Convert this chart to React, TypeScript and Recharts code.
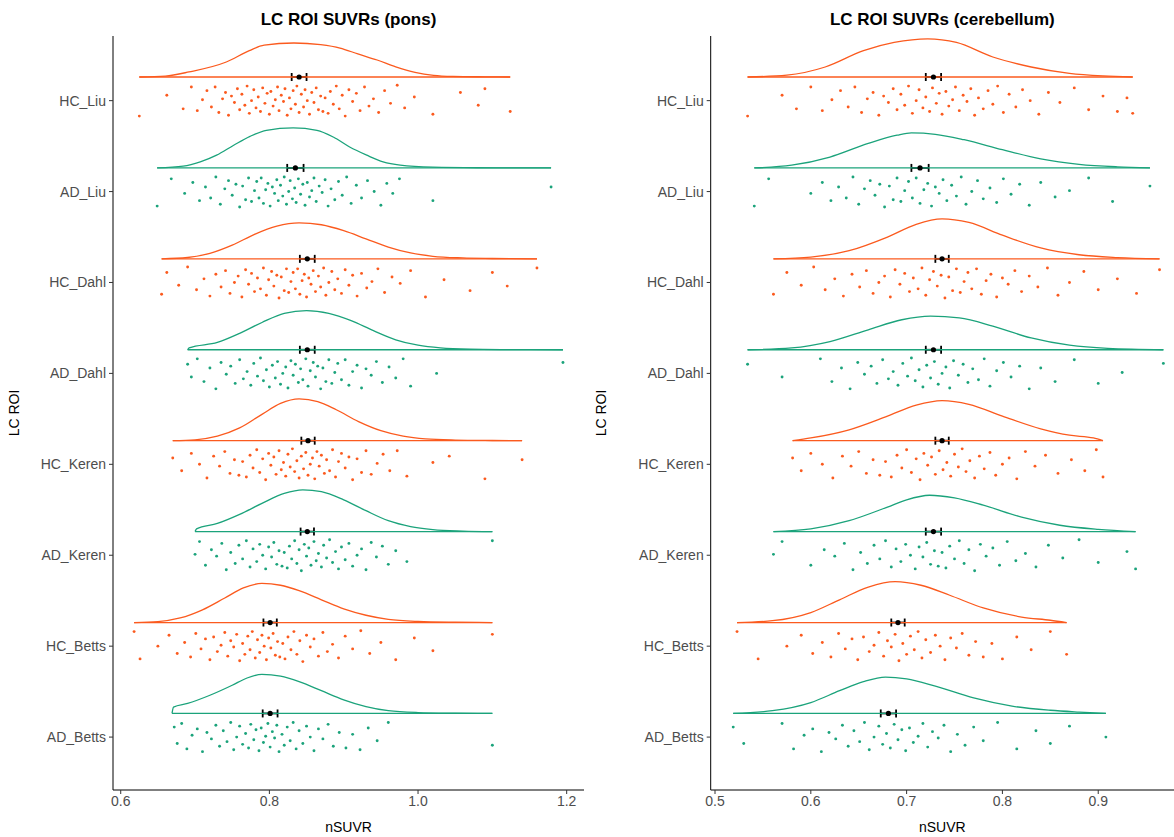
/* ── LC ROI SUVR raincloud plots (pons / cerebellum) ── */

import React from 'react';
import { ScatterChart, Scatter, XAxis, YAxis, ErrorBar } from 'recharts';

const GROUPS = ['AD_Betts', 'HC_Betts', 'AD_Keren', 'HC_Keren', 'AD_Dahl', 'HC_Dahl', 'AD_Liu', 'HC_Liu'];

const ORANGE = '#FB5A1E';
const GREEN = '#1BA37B';
const FONT = '"Liberation Sans", Arial, Helvetica, sans-serif';

// vertical jitter of the raw points (category units)
const JITTER = [
  0.11, -0.07, 0.15, -0.13, 0.02, 0.09, -0.16, 0.05, -0.02, 0.13,
  -0.1, 0.07, -0.05, 0.16, -0.14, 0.0, 0.12, -0.08, 0.04, -0.12,
  0.14, -0.03, 0.08, -0.15, 0.1, -0.06, 0.01, 0.15, -0.11, 0.06,
  -0.01, 0.13, -0.16, 0.03, -0.09, 0.11, -0.04, 0.16, -0.13, 0.07,
  -0.07, 0.12, 0.0, -0.15, 0.09, -0.02, 0.14, -0.1, 0.05, -0.12,
  0.03, -0.14, 0.1, -0.04, 0.16, -0.09, 0.06, -0.17, 0.12, -0.01,
  0.08, -0.11, 0.15, -0.06, 0.02, -0.13, 0.11, -0.03, 0.17, -0.08,
  0.04, -0.15, 0.09, -0.05, 0.13, -0.12, 0.0, 0.07, -0.16, 0.14,
  -0.02, 0.1, -0.1, 0.05, -0.07, 0.16, -0.14, 0.03, 0.12, -0.04,
  0.08, -0.17, 0.06, -0.09, 0.15, -0.11, 0.01,
];

/* ---- pons: density outlines [nSUVR, height] ---- */
const pHcLiuDens = [[0.625, 0], [0.66, 0.01], [0.692, 0.056], [0.742, 0.165], [0.773, 0.29], [0.793, 0.35], [0.833, 0.374], [0.869, 0.355], [0.895, 0.318], [0.919, 0.254], [0.945, 0.187], [0.97, 0.112], [0.996, 0.052], [1.021, 0.019], [1.047, 0.007], [1.09, 0.002], [1.124, 0]];
const pAdLiuDens = [[0.649, 0], [0.684, 0.019], [0.707, 0.066], [0.729, 0.14], [0.752, 0.25], [0.774, 0.348], [0.796, 0.414], [0.832, 0.44], [0.864, 0.414], [0.886, 0.34], [0.908, 0.23], [0.931, 0.14], [0.953, 0.066], [0.976, 0.03], [1.02, 0.008], [1.08, 0.002], [1.179, 0]];
const pHcDahlDens = [[0.655, 0], [0.69, 0.015], [0.72, 0.06], [0.75, 0.15], [0.78, 0.27], [0.81, 0.36], [0.84, 0.396], [0.87, 0.375], [0.9, 0.31], [0.93, 0.22], [0.96, 0.13], [0.99, 0.065], [1.02, 0.028], [1.06, 0.01], [1.1, 0.004], [1.16, 0]];
const pAdDahlDens = [[0.69, 0], [0.692, 0.02], [0.73, 0.08], [0.76, 0.18], [0.79, 0.3], [0.82, 0.4], [0.85, 0.43], [0.88, 0.4], [0.91, 0.32], [0.94, 0.21], [0.97, 0.11], [1.0, 0.05], [1.03, 0.02], [1.07, 0.006], [1.12, 0.002], [1.195, 0]];
const pHcKerenDens = [[0.67, 0], [0.7, 0.01], [0.73, 0.05], [0.76, 0.14], [0.79, 0.29], [0.815, 0.41], [0.84, 0.46], [0.865, 0.43], [0.89, 0.34], [0.92, 0.21], [0.95, 0.11], [0.98, 0.05], [1.01, 0.02], [1.05, 0.007], [1.1, 0.002], [1.14, 0]];
const pAdKerenDens = [[0.7, 0], [0.702, 0.03], [0.73, 0.09], [0.76, 0.19], [0.79, 0.31], [0.82, 0.42], [0.845, 0.46], [0.87, 0.44], [0.9, 0.35], [0.93, 0.23], [0.96, 0.12], [0.99, 0.055], [1.02, 0.022], [1.06, 0.006], [1.1, 0]];
const pHcBettsDens = [[0.618, 0], [0.65, 0.01], [0.68, 0.05], [0.71, 0.14], [0.74, 0.27], [0.765, 0.38], [0.79, 0.43], [0.815, 0.41], [0.84, 0.35], [0.87, 0.25], [0.9, 0.15], [0.93, 0.08], [0.96, 0.035], [1.0, 0.012], [1.05, 0.003], [1.1, 0]];
const pAdBettsDens = [[0.669, 0], [0.671, 0.07], [0.69, 0.11], [0.72, 0.2], [0.75, 0.31], [0.77, 0.39], [0.79, 0.43], [0.815, 0.41], [0.84, 0.35], [0.87, 0.25], [0.9, 0.15], [0.93, 0.075], [0.96, 0.03], [1.0, 0.01], [1.05, 0.003], [1.1, 0]];

/* ---- pons: raw points ---- */
const pHcLiuPts = [0.625, 0.662, 0.684, 0.695, 0.703, 0.71, 0.716, 0.722, 0.727, 0.732, 0.737, 0.741, 0.745, 0.749, 0.753, 0.757, 0.76, 0.763, 0.767, 0.77, 0.773, 0.776, 0.779, 0.782, 0.785, 0.788, 0.791, 0.794, 0.797, 0.8, 0.802, 0.805, 0.808, 0.811, 0.813, 0.816, 0.819, 0.821, 0.824, 0.827, 0.829, 0.832, 0.835, 0.837, 0.84, 0.843, 0.846, 0.848, 0.851, 0.854, 0.857, 0.86, 0.863, 0.866, 0.869, 0.872, 0.875, 0.879, 0.882, 0.886, 0.89, 0.894, 0.898, 0.902, 0.907, 0.912, 0.917, 0.922, 0.928, 0.934, 0.94, 0.947, 0.955, 0.963, 0.972, 0.982, 0.995, 1.02, 1.057, 1.081, 1.09, 1.124];
const pAdLiuPts = [0.649, 0.668, 0.686, 0.697, 0.706, 0.714, 0.721, 0.728, 0.734, 0.74, 0.745, 0.75, 0.755, 0.76, 0.764, 0.768, 0.772, 0.776, 0.78, 0.783, 0.786, 0.789, 0.792, 0.795, 0.798, 0.801, 0.804, 0.807, 0.81, 0.812, 0.815, 0.818, 0.82, 0.823, 0.826, 0.828, 0.831, 0.834, 0.836, 0.839, 0.842, 0.845, 0.848, 0.851, 0.854, 0.857, 0.86, 0.863, 0.867, 0.871, 0.875, 0.879, 0.883, 0.888, 0.893, 0.898, 0.904, 0.91, 0.917, 0.924, 0.932, 0.941, 0.95, 0.958, 0.966, 0.975, 1.02, 1.179];
const pHcDahlPts = [0.655, 0.662, 0.678, 0.69, 0.702, 0.712, 0.72, 0.728, 0.735, 0.741, 0.747, 0.753, 0.758, 0.763, 0.768, 0.772, 0.776, 0.78, 0.784, 0.788, 0.792, 0.796, 0.799, 0.803, 0.806, 0.81, 0.813, 0.816, 0.82, 0.823, 0.826, 0.829, 0.832, 0.835, 0.838, 0.841, 0.844, 0.847, 0.85, 0.853, 0.856, 0.859, 0.862, 0.866, 0.869, 0.873, 0.876, 0.88, 0.884, 0.888, 0.892, 0.897, 0.902, 0.907, 0.912, 0.918, 0.924, 0.931, 0.938, 0.946, 0.955, 0.965, 0.976, 0.99, 1.01, 1.035, 1.07, 1.1, 1.12, 1.16];
const pAdDahlPts = [0.69, 0.695, 0.703, 0.712, 0.72, 0.728, 0.735, 0.742, 0.748, 0.754, 0.76, 0.765, 0.77, 0.775, 0.779, 0.784, 0.788, 0.792, 0.796, 0.8, 0.804, 0.808, 0.811, 0.815, 0.818, 0.822, 0.825, 0.829, 0.832, 0.835, 0.839, 0.842, 0.845, 0.849, 0.852, 0.855, 0.859, 0.862, 0.865, 0.869, 0.872, 0.876, 0.88, 0.884, 0.888, 0.892, 0.897, 0.902, 0.907, 0.912, 0.918, 0.924, 0.93, 0.937, 0.944, 0.952, 0.961, 0.97, 0.98, 0.99, 1.025, 1.195];
const pHcKerenPts = [0.67, 0.682, 0.695, 0.706, 0.716, 0.725, 0.733, 0.74, 0.747, 0.753, 0.759, 0.764, 0.769, 0.774, 0.778, 0.783, 0.787, 0.791, 0.795, 0.799, 0.802, 0.806, 0.809, 0.813, 0.816, 0.819, 0.822, 0.825, 0.828, 0.831, 0.834, 0.837, 0.84, 0.843, 0.846, 0.849, 0.852, 0.855, 0.858, 0.861, 0.864, 0.867, 0.87, 0.874, 0.877, 0.881, 0.885, 0.889, 0.893, 0.897, 0.902, 0.907, 0.912, 0.918, 0.924, 0.93, 0.937, 0.945, 0.953, 0.962, 0.972, 0.985, 1.02, 1.042, 1.09, 1.14];
const pAdKerenPts = [0.7, 0.706, 0.714, 0.722, 0.729, 0.736, 0.742, 0.748, 0.754, 0.759, 0.764, 0.769, 0.774, 0.778, 0.783, 0.787, 0.791, 0.795, 0.799, 0.803, 0.806, 0.81, 0.813, 0.817, 0.82, 0.824, 0.827, 0.83, 0.834, 0.837, 0.84, 0.843, 0.847, 0.85, 0.853, 0.856, 0.86, 0.863, 0.866, 0.87, 0.873, 0.877, 0.881, 0.885, 0.889, 0.893, 0.897, 0.902, 0.907, 0.912, 0.918, 0.924, 0.93, 0.937, 0.944, 0.952, 0.96, 0.97, 0.985, 1.1];
const pHcBettsPts = [0.618, 0.626, 0.65, 0.665, 0.676, 0.686, 0.694, 0.701, 0.708, 0.714, 0.72, 0.725, 0.73, 0.735, 0.74, 0.744, 0.748, 0.752, 0.756, 0.76, 0.764, 0.767, 0.771, 0.774, 0.777, 0.781, 0.784, 0.787, 0.79, 0.793, 0.796, 0.799, 0.802, 0.805, 0.808, 0.811, 0.814, 0.818, 0.821, 0.825, 0.829, 0.833, 0.837, 0.841, 0.845, 0.85, 0.855, 0.86, 0.866, 0.872, 0.878, 0.885, 0.893, 0.902, 0.912, 0.923, 0.935, 0.95, 0.97, 0.995, 1.02, 1.1];
const pAdBettsPts = [0.672, 0.676, 0.682, 0.689, 0.696, 0.703, 0.71, 0.716, 0.722, 0.728, 0.733, 0.738, 0.743, 0.748, 0.752, 0.756, 0.76, 0.764, 0.768, 0.772, 0.775, 0.779, 0.782, 0.786, 0.789, 0.792, 0.795, 0.798, 0.801, 0.804, 0.807, 0.81, 0.813, 0.817, 0.82, 0.824, 0.828, 0.832, 0.836, 0.84, 0.845, 0.85, 0.855, 0.86, 0.866, 0.872, 0.879, 0.886, 0.894, 0.903, 0.912, 0.922, 0.933, 0.945, 0.96, 1.1];

// group order as in GROUPS
const ponsMean = [0.801, 0.801, 0.851, 0.852, 0.851, 0.851, 0.835, 0.84];
const ponsSE = [0.01, 0.009, 0.009, 0.009, 0.01, 0.01, 0.011, 0.01];

/* ---- cerebellum: density outlines ---- */
const cHcLiuDens = [[0.534, 0], [0.575, 0.02], [0.615, 0.11], [0.655, 0.29], [0.687, 0.38], [0.722, 0.42], [0.752, 0.38], [0.79, 0.22], [0.83, 0.11], [0.87, 0.04], [0.905, 0.012], [0.936, 0]];
const cAdLiuDens = [[0.541, 0], [0.58, 0.03], [0.62, 0.12], [0.66, 0.27], [0.69, 0.36], [0.705, 0.385], [0.73, 0.37], [0.76, 0.31], [0.8, 0.2], [0.84, 0.1], [0.88, 0.04], [0.92, 0.012], [0.954, 0]];
const cHcDahlDens = [[0.561, 0], [0.6, 0.02], [0.64, 0.09], [0.68, 0.24], [0.71, 0.38], [0.737, 0.44], [0.765, 0.4], [0.8, 0.26], [0.84, 0.12], [0.88, 0.045], [0.92, 0.014], [0.964, 0]];
const cAdDahlDens = [[0.534, 0], [0.58, 0.02], [0.62, 0.09], [0.66, 0.22], [0.695, 0.33], [0.725, 0.37], [0.755, 0.35], [0.79, 0.26], [0.83, 0.13], [0.87, 0.05], [0.91, 0.015], [0.968, 0]];
const cHcKerenDens = [[0.581, 0], [0.6, 0.03], [0.64, 0.12], [0.68, 0.27], [0.71, 0.39], [0.737, 0.44], [0.765, 0.4], [0.8, 0.27], [0.84, 0.13], [0.87, 0.06], [0.895, 0.03], [0.905, 0]];
const cAdKerenDens = [[0.561, 0], [0.6, 0.03], [0.64, 0.12], [0.68, 0.27], [0.7, 0.35], [0.724, 0.4], [0.75, 0.37], [0.78, 0.29], [0.82, 0.16], [0.86, 0.07], [0.9, 0.025], [0.939, 0]];
const cHcBettsDens = [[0.523, 0], [0.56, 0.02], [0.6, 0.11], [0.63, 0.25], [0.66, 0.39], [0.688, 0.45], [0.715, 0.41], [0.745, 0.3], [0.78, 0.16], [0.82, 0.06], [0.85, 0.025], [0.867, 0]];
const cAdBettsDens = [[0.519, 0], [0.56, 0.03], [0.6, 0.12], [0.63, 0.25], [0.655, 0.35], [0.678, 0.4], [0.7, 0.38], [0.73, 0.3], [0.77, 0.17], [0.81, 0.08], [0.85, 0.035], [0.88, 0.015], [0.908, 0]];

/* ---- cerebellum: raw points ---- */
const cHcLiuPts = [0.534, 0.57, 0.585, 0.6, 0.612, 0.622, 0.631, 0.639, 0.646, 0.653, 0.659, 0.665, 0.671, 0.676, 0.681, 0.686, 0.69, 0.694, 0.698, 0.702, 0.706, 0.71, 0.713, 0.717, 0.72, 0.724, 0.727, 0.731, 0.734, 0.737, 0.741, 0.744, 0.748, 0.751, 0.755, 0.759, 0.763, 0.767, 0.771, 0.775, 0.78, 0.785, 0.79, 0.795, 0.801, 0.807, 0.814, 0.821, 0.829, 0.838, 0.848, 0.86, 0.875, 0.89, 0.905, 0.92, 0.93, 0.936];
const cAdLiuPts = [0.541, 0.556, 0.6, 0.612, 0.621, 0.629, 0.637, 0.644, 0.65, 0.656, 0.662, 0.667, 0.672, 0.677, 0.682, 0.686, 0.69, 0.694, 0.698, 0.702, 0.706, 0.71, 0.714, 0.718, 0.722, 0.726, 0.73, 0.734, 0.738, 0.742, 0.747, 0.752, 0.757, 0.762, 0.768, 0.774, 0.78, 0.787, 0.794, 0.801, 0.809, 0.818, 0.828, 0.84, 0.855, 0.87, 0.89, 0.915, 0.954];
const cHcDahlPts = [0.561, 0.575, 0.59, 0.603, 0.615, 0.625, 0.634, 0.643, 0.651, 0.658, 0.665, 0.671, 0.677, 0.683, 0.688, 0.693, 0.698, 0.703, 0.707, 0.712, 0.716, 0.72, 0.724, 0.728, 0.732, 0.736, 0.74, 0.744, 0.748, 0.752, 0.756, 0.76, 0.764, 0.768, 0.773, 0.778, 0.783, 0.788, 0.794, 0.8, 0.806, 0.813, 0.82, 0.828, 0.837, 0.847, 0.858, 0.87, 0.885, 0.9, 0.92, 0.94, 0.964];
const cAdDahlPts = [0.534, 0.57, 0.61, 0.622, 0.632, 0.641, 0.649, 0.656, 0.663, 0.669, 0.675, 0.681, 0.686, 0.691, 0.696, 0.701, 0.705, 0.709, 0.713, 0.717, 0.721, 0.725, 0.729, 0.733, 0.737, 0.741, 0.745, 0.749, 0.754, 0.759, 0.764, 0.769, 0.775, 0.781, 0.787, 0.794, 0.801, 0.809, 0.818, 0.828, 0.84, 0.855, 0.875, 0.9, 0.925, 0.968];
const cHcKerenPts = [0.581, 0.59, 0.6, 0.612, 0.623, 0.633, 0.642, 0.65, 0.658, 0.665, 0.672, 0.678, 0.684, 0.69, 0.695, 0.7, 0.705, 0.71, 0.714, 0.718, 0.722, 0.726, 0.73, 0.734, 0.738, 0.742, 0.746, 0.75, 0.754, 0.758, 0.762, 0.766, 0.771, 0.776, 0.781, 0.787, 0.793, 0.8, 0.807, 0.815, 0.824, 0.834, 0.845, 0.858, 0.872, 0.886, 0.898, 0.905];
const cAdKerenPts = [0.561, 0.57, 0.6, 0.614, 0.625, 0.635, 0.644, 0.652, 0.659, 0.666, 0.672, 0.678, 0.684, 0.689, 0.694, 0.699, 0.704, 0.709, 0.713, 0.717, 0.721, 0.725, 0.729, 0.733, 0.737, 0.741, 0.745, 0.75, 0.755, 0.76, 0.765, 0.771, 0.777, 0.783, 0.79, 0.797, 0.805, 0.814, 0.824, 0.835, 0.848, 0.863, 0.88, 0.9, 0.93, 0.939];
const cHcBettsPts = [0.523, 0.545, 0.575, 0.59, 0.602, 0.612, 0.621, 0.629, 0.636, 0.643, 0.649, 0.655, 0.661, 0.666, 0.671, 0.676, 0.68, 0.684, 0.688, 0.692, 0.696, 0.7, 0.704, 0.708, 0.712, 0.716, 0.72, 0.725, 0.73, 0.735, 0.74, 0.746, 0.752, 0.758, 0.765, 0.772, 0.78, 0.789, 0.8, 0.815, 0.83, 0.85, 0.867];
const cAdBettsPts = [0.519, 0.53, 0.57, 0.582, 0.593, 0.602, 0.611, 0.619, 0.626, 0.633, 0.639, 0.645, 0.651, 0.656, 0.661, 0.666, 0.671, 0.675, 0.679, 0.683, 0.687, 0.691, 0.695, 0.699, 0.703, 0.707, 0.712, 0.717, 0.722, 0.727, 0.733, 0.739, 0.746, 0.753, 0.761, 0.77, 0.78, 0.795, 0.815, 0.835, 0.85, 0.87, 0.908];

const cereMean = [0.681, 0.691, 0.728, 0.737, 0.728, 0.737, 0.714, 0.728];
const cereSE = [0.008, 0.007, 0.008, 0.007, 0.008, 0.007, 0.009, 0.008];

const ponsDens = [pAdBettsDens, pHcBettsDens, pAdKerenDens, pHcKerenDens, pAdDahlDens, pHcDahlDens, pAdLiuDens, pHcLiuDens];
const ponsPts = [pAdBettsPts, pHcBettsPts, pAdKerenPts, pHcKerenPts, pAdDahlPts, pHcDahlPts, pAdLiuPts, pHcLiuPts];
const cereDens = [cAdBettsDens, cHcBettsDens, cAdKerenDens, cHcKerenDens, cAdDahlDens, cHcDahlDens, cAdLiuDens, cHcLiuDens];
const cerePts = [cAdBettsPts, cHcBettsPts, cAdKerenPts, cHcKerenPts, cAdDahlPts, cHcDahlPts, cAdLiuPts, cHcLiuPts];

const BASE = 0.26; // violin baseline above category centre
const Y_DOMAIN: [number, number] = [-0.582, 7.711];
const CHART_H = 837;
const TOP = 36;
const X_AXIS_H = 47;

const hidden = () => <g />;

interface PanelProps {
  title: string;
  left: number;
  width: number;
  yWidth: number;
  marginRight: number;
  domain: [number, number];
  ticks: number[];
  dens: number[][][];
  pts: number[][];
  mean: number[];
  se: number[];
}

function Panel({ title, left, width, yWidth, marginRight, domain, ticks, dens, pts, mean, se }: PanelProps) {
  const plotLeft = left + yWidth;
  const plotW = width - yWidth - marginRight;
  const plotBottom = CHART_H - X_AXIS_H;
  return (
    <>
      <div style={{ position: 'absolute', left: plotLeft, top: 9, width: plotW, textAlign: 'center', fontFamily: FONT, fontWeight: 'bold', fontSize: 17, lineHeight: '22px', color: '#000' }}>
        {title}
      </div>
      <div style={{ position: 'absolute', left: plotLeft, top: 818, width: plotW, textAlign: 'center', fontFamily: FONT, fontSize: 14, lineHeight: '18px', color: '#000' }}>
        nSUVR
      </div>
      <div style={{ position: 'absolute', left: left + 14 - 60, top: (TOP + plotBottom) / 2 - 9, width: 120, textAlign: 'center', fontFamily: FONT, fontSize: 14, lineHeight: '18px', color: '#000', transform: 'rotate(-90deg)' }}>
        LC ROI
      </div>
      <div style={{ position: 'absolute', left, top: 0 }}>
        <ScatterChart width={width} height={CHART_H} margin={{ top: TOP, right: marginRight, bottom: 0, left: 0 }}>
          <XAxis
            type="number"
            dataKey="x"
            domain={domain}
            allowDataOverflow
            ticks={ticks}
            tickFormatter={(v: number) => v.toFixed(1)}
            height={X_AXIS_H}
            stroke="#000"
            tickSize={4}
            tickMargin={2}
            tick={{ fill: '#4d4d4d', fontSize: 14, fontFamily: FONT }}
            tickLine={{ stroke: '#333' }}
          />
          <YAxis
            type="number"
            dataKey="y"
            domain={Y_DOMAIN}
            allowDataOverflow
            ticks={[0, 1, 2, 3, 4, 5, 6, 7]}
            interval={0}
            tickFormatter={(v: number) => GROUPS[v]}
            width={yWidth}
            stroke="#000"
            tickSize={4}
            tickMargin={3}
            tick={{ fill: '#4d4d4d', fontSize: 14, fontFamily: FONT }}
            tickLine={{ stroke: '#333' }}
          />
          {GROUPS.map((g, k) => {
            const col = g.startsWith('HC') ? ORANGE : GREEN;
            const d = dens[k];
            const curve = d.map(([x, h]) => ({ x, y: k + BASE + h }));
            const base = [{ x: d[0][0], y: k + BASE }, { x: d[d.length - 1][0], y: k + BASE }];
            return (
              <React.Fragment key={g}>
                <Scatter data={base} line={{ stroke: col, strokeWidth: 1.3 }} shape={hidden} isAnimationActive={false} />
                <Scatter data={curve} line={{ stroke: col, strokeWidth: 1.3 }} lineJointType="monotoneX" shape={hidden} isAnimationActive={false} />
              </React.Fragment>
            );
          })}
          {GROUPS.map((g, k) => {
            const col = g.startsWith('HC') ? ORANGE : GREEN;
            const data = pts[k].map((x, i) => ({ x, y: k + JITTER[(i + k * 13) % JITTER.length] }));
            return (
              <Scatter
                key={g + '-pts'}
                data={data}
                isAnimationActive={false}
                shape={(p: any) => <circle cx={p.cx} cy={p.cy} r={1.45} fill={col} />}
              />
            );
          })}
          {GROUPS.map((g, k) => (
            <Scatter
              key={g + '-mean'}
              data={[{ x: mean[k], y: k + BASE, err: se[k] }]}
              isAnimationActive={false}
              shape={(p: any) => <circle cx={p.cx} cy={p.cy} r={2.6} fill="#000" />}
            >
              <ErrorBar dataKey="err" direction="x" width={4} stroke="#000" strokeWidth={1.8} />
            </Scatter>
          ))}
        </ScatterChart>
      </div>
    </>
  );
}

export default function App() {
  return (
    <div style={{ position: 'absolute', left: 0, top: 0, width: 1174, height: 837, background: '#fff', overflow: 'hidden' }}>
      <Panel
        title="LC ROI SUVRs (pons)"
        left={0}
        width={587}
        yWidth={113}
        marginRight={3}
        domain={[0.5896, 1.2233]}
        ticks={[0.6, 0.8, 1.0, 1.2]}
        dens={ponsDens}
        pts={ponsPts}
        mean={ponsMean}
        se={ponsSE}
      />
      <Panel
        title="LC ROI SUVRs (cerebellum)"
        left={587}
        width={587}
        yWidth={123.7}
        marginRight={0}
        domain={[0.4955, 0.9791]}
        ticks={[0.5, 0.6, 0.7, 0.8, 0.9]}
        dens={cereDens}
        pts={cerePts}
        mean={cereMean}
        se={cereSE}
      />
    </div>
  );
}
